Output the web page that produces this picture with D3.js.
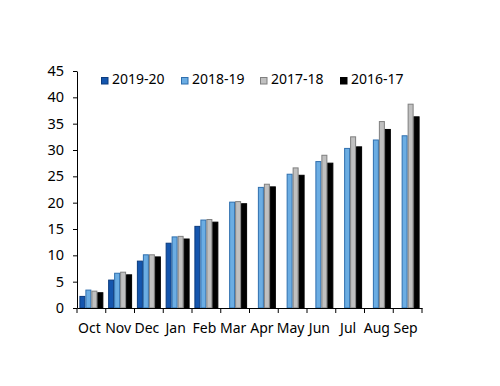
<!DOCTYPE html>
<html>
<head>
<meta charset="utf-8">
<script src="https://cdn.jsdelivr.net/npm/d3@7"></script>
<style>
	body { margin: 0; background: #fff; }
	svg { display: block; }
	svg text { font-family: "Noto Sans", "DejaVu Sans", sans-serif; }
</style>
</head>
<body>
<div id="chart"></div>
<script>
// data
const months = ["Oct", "Nov", "Dec", "Jan", "Feb", "Mar", "Apr", "May", "Jun", "Jul", "Aug", "Sep"];
const seriesNames = ["2019-20", "2018-19", "2017-18", "2016-17"];
const v2019 = [2.2, 5.3, 8.9, 12.3, 15.5, null, null, null, null, null, null, null];
const v2018 = [3.4, 6.6, 10.1, 13.5, 16.7, 20.1, 22.9, 25.4, 27.8, 30.3, 31.9, 32.7];
const v2017 = [3.2, 6.8, 10.1, 13.6, 16.8, 20.2, 23.5, 26.6, 29.0, 32.5, 35.4, 38.7];
const v2016 = [2.9, 6.3, 9.7, 13.1, 16.3, 19.8, 23.0, 25.2, 27.5, 30.6, 33.9, 36.3];
const yTicks = [0, 5, 10, 15, 20, 25, 30, 35, 40, 45];

const seriesValues = [v2019, v2018, v2017, v2016];
const fills = ["#1556ae", "#6badE3", "#c0c0c0", "#000000"];
const strokes = ["#0b3b7e", "#2f6fae", "#7f7f7f", "#000000"];

const width = 500, height = 386;
const margin = {left: 77, right: 78, top: 71, bottom: 78};

const svg = d3.select("#chart")
	.append("svg")
	.attr("width", width)
	.attr("height", height);

const x0 = d3.scaleBand()
	.domain(months)
	.range([margin.left, width - margin.right])
	.paddingInner(0)
	.paddingOuter(0);

const x1 = d3.scaleBand()
	.domain(seriesNames)
	.range([0, x0.bandwidth()])
	.paddingInner(0)
	.paddingOuter(0.4);

const y = d3.scaleLinear()
	.domain([0, 45])
	.range([height - margin.bottom, margin.top]);

// bars
const rows = [];
months.forEach((m, i) => {
	seriesNames.forEach((s, j) => {
		if (seriesValues[j][i] != null) rows.push({m: m, s: s, j: j, v: seriesValues[j][i]});
	});
});

svg.selectAll("rect.bar")
	.data(rows)
	.enter()
	.append("rect")
	.attr("class", "bar")
	.attr("x", d => x0(d.m) + x1(d.s) + 0.5)
	.attr("y", d => y(d.v))
	.attr("width", x1.bandwidth() - 1)
	.attr("height", d => y(0) - y(d.v))
	.style("fill", d => fills[d.j])
	.style("stroke", d => strokes[d.j])
	.style("stroke-width", 1);

// y axis
const yAxis = svg.append("g")
	.attr("transform", `translate(${margin.left},0)`)
	.call(d3.axisLeft(y).tickValues(yTicks).tickSize(4).tickSizeOuter(0).tickPadding(9));
yAxis.selectAll("text").style("font-size", "14.5px").style("fill", "#000");
yAxis.selectAll("line, path").style("stroke", "#000");

// x axis: labels centred in bands, ticks on band edges
const xAxis = svg.append("g")
	.attr("transform", `translate(0,${y(0)})`)
	.call(d3.axisBottom(x0).tickSize(0).tickSizeOuter(0).tickPadding(15));
xAxis.selectAll("text").style("font-size", "14px").style("fill", "#000").attr("dx", -2);
xAxis.select("path").style("stroke", "#000");

const edges = months.map(m => x0(m)).concat([x0.range()[1]]);
xAxis.selectAll("line.edge")
	.data(edges)
	.enter()
	.append("line")
	.attr("class", "edge")
	.attr("x1", d => d)
	.attr("x2", d => d)
	.attr("y1", 0)
	.attr("y2", 5)
	.style("stroke", "#000");

// legend
const legendX = [101, 181, 260, 340];
const legend = svg.selectAll("g.legend")
	.data(seriesNames)
	.enter()
	.append("g")
	.attr("class", "legend")
	.attr("transform", (d, i) => `translate(${legendX[i]},77)`);

legend.append("rect")
	.attr("x", 0.5)
	.attr("y", 0.5)
	.attr("width", 6.5)
	.attr("height", 6.5)
	.style("fill", (d, i) => fills[i])
	.style("stroke", (d, i) => strokes[i]);

legend.append("text")
	.attr("x", 11)
	.attr("y", 6.5)
	.style("font-size", "14px")
	.text(d => d);
</script>
</body>
</html>
